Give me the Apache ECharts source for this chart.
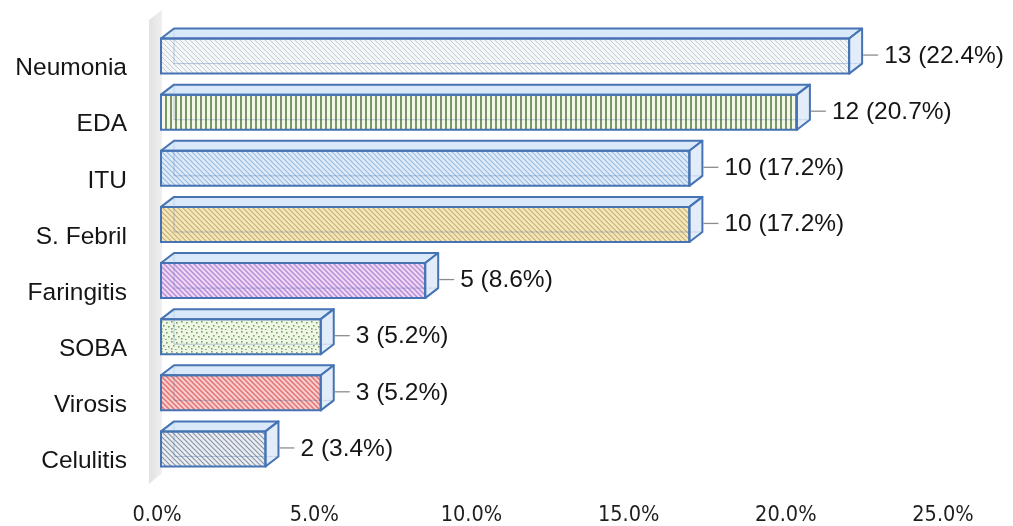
<!DOCTYPE html>
<html>
<head>
<meta charset="utf-8">
<script src="https://cdn.jsdelivr.net/npm/echarts@6/dist/echarts.min.js"></script>
<style>
  html, body { margin: 0; padding: 0; background: #ffffff; }
  #chart { width: 1013px; height: 526px; }
</style>
</head>
<body>
<div id="chart"></div>
<script>
// Diagnoses, case counts and their share of all cases (%)
const categories = ['Neumonia', 'EDA', 'ITU', 'S. Febril', 'Faringitis', 'SOBA', 'Virosis', 'Celulitis'];
const counts = [13, 12, 10, 10, 5, 3, 3, 2];
const percents = [22.4, 20.7, 17.2, 17.2, 8.6, 5.2, 5.2, 3.4];
const axisTicks = [0, 5, 10, 15, 20, 25];

// ---- pattern tiles for the front faces ----
function hatchTile(base, ink, size, width) {
  const c = document.createElement('canvas');
  c.width = c.height = size;
  const g = c.getContext('2d');
  g.fillStyle = base; g.fillRect(0, 0, size, size);
  g.strokeStyle = ink; g.lineWidth = width;
  g.beginPath();
  for (const o of [-size, 0, size]) { g.moveTo(o - 1, -1); g.lineTo(o + size + 1, size + 1); }
  g.stroke();
  return c;
}
function stripeTile(base, ink, size, width) {
  const c = document.createElement('canvas');
  c.width = size; c.height = 4;
  const g = c.getContext('2d');
  g.fillStyle = base; g.fillRect(0, 0, size, 4);
  g.fillStyle = ink; g.fillRect(0, 0, width, 4);
  return c;
}
function dotTile(base, ink) {
  const c = document.createElement('canvas');
  c.width = c.height = 10;
  const g = c.getContext('2d');
  g.fillStyle = base; g.fillRect(0, 0, 10, 10);
  g.fillStyle = ink;
  [[1, 1], [6, 2], [3, 5], [8, 6], [1, 8], [5, 9]].forEach(function (p) {
    g.fillRect(p[0], p[1], 1.6, 1.6);
  });
  return c;
}

const faceFills = [
  hatchTile('#f2f5f8', '#c3c8ce', 5, 1),
  stripeTile('#f3f7e6', '#6e8c5c', 5, 2),
  hatchTile('#dfeaf7', '#8db4de', 5, 1.2),
  hatchTile('#f3e6b6', '#c4a768', 5, 1.2),
  hatchTile('#ecd6f3', '#b27fd3', 5, 1.4),
  dotTile('#eef6e3', '#6f9a5c'),
  hatchTile('#f8caca', '#e06767', 5, 1.5),
  hatchTile('#e9edf1', '#7d8ba0', 5, 1.2)
].map(function (tile) { return { image: tile, repeat: 'repeat' }; });

const EDGE = '#4673b3';
const DEPTH_X = 13, DEPTH_Y = 10;
const LABEL_FONT = '24.5px "Liberation Sans", Arial, sans-serif';

// Box-shaped bar: patterned front, translucent top and side, short leader to the label
function renderBox(params, api) {
  const v = api.value(0);
  const ci = api.value(1);
  const p0 = api.coord([0, ci]);
  const p1 = api.coord([v, ci]);
  const band = api.size([0, 1])[1];
  const h = band * 0.625;
  const x0 = p0[0], x1 = p1[0], yc = p0[1];
  const top = yc - h / 2, bot = yc + h / 2;
  const dx = DEPTH_X, dy = DEPTH_Y;
  const idx = params.dataIndex;
  return {
    type: 'group',
    children: [
      { type: 'polyline', shape: { points: [[x0 + dx, top - dy], [x0 + dx, bot - dy], [x1 + dx, bot - dy]] },
        style: { stroke: 'rgba(70,115,179,0.45)', lineWidth: 1, lineDash: [3, 2], fill: null } },
      { type: 'rect', shape: { x: x0, y: top, width: x1 - x0, height: h },
        style: { fill: faceFills[idx], opacity: 0.92 } },
      { type: 'polyline', shape: { points: [[x0 + dx, top - dy], [x0 + dx, bot - dy], [x1 + dx, bot - dy]] },
        style: { stroke: 'rgba(70,115,179,0.35)', lineWidth: 1, fill: null } },
      { type: 'polygon', shape: { points: [[x0, top], [x0 + dx, top - dy], [x1 + dx, top - dy], [x1, top]] },
        style: { fill: 'rgba(205,226,247,0.75)', stroke: EDGE, lineWidth: 2, lineJoin: 'round' } },
      { type: 'polygon', shape: { points: [[x1, top], [x1 + dx, top - dy], [x1 + dx, bot - dy], [x1, bot]] },
        style: { fill: 'rgba(214,230,247,0.7)', stroke: EDGE, lineWidth: 2, lineJoin: 'round' } },
      { type: 'rect', shape: { x: x0, y: top, width: x1 - x0, height: h },
        style: { fill: null, stroke: EDGE, lineWidth: 2 } },
      { type: 'line', shape: { x1: x1 + dx + 1, y1: yc - 1, x2: x1 + dx + 16, y2: yc - 1 },
        style: { stroke: '#8c8c8c', lineWidth: 1.3 } },
      { type: 'text', style: {
          text: counts[idx] + ' (' + percents[idx].toFixed(1) + '%)',
          x: x1 + dx + 22, y: yc,
          fill: '#151515', font: LABEL_FONT,
          align: 'left', verticalAlign: 'middle' } }
    ]
  };
}

// Pale side wall at the zero end of the value axis
function renderWall(params, api) {
  const first = api.coord([0, 0]);
  const last = api.coord([0, categories.length - 1]);
  const band = api.size([0, 1])[1];
  const x = first[0];
  const yTop = first[1] - band / 2;
  const yBot = last[1] + band / 2;
  return {
    type: 'polygon',
    shape: { points: [[x - 12, yTop - 8], [x + 1, yTop - 18], [x + 1, yBot - 4], [x - 12, yBot + 7]] },
    style: {
      fill: new echarts.graphic.LinearGradient(0, 0, 1, 0, [
        { offset: 0, color: '#e2e2e2' }, { offset: 1, color: '#efefef' }
      ])
    },
    silent: true
  };
}

const chart = echarts.init(document.getElementById('chart'), null, { renderer: 'canvas' });
chart.setOption({
  backgroundColor: '#ffffff',
  animation: false,
  grid: [
    { left: 161, right: 84, top: 28, bottom: 49 },
    { left: 157, right: 70, top: 28, bottom: 49 }
  ],
  xAxis: [
    { type: 'value', gridIndex: 0, min: 0, max: 25, interval: 5,
      axisLine: { show: false }, axisTick: { show: false }, axisLabel: { show: false }, splitLine: { show: false } },
    { type: 'value', gridIndex: 1, min: axisTicks[0], max: axisTicks[axisTicks.length - 1], interval: 5,
      axisLine: { show: false }, axisTick: { show: false }, splitLine: { show: false },
      axisLabel: { margin: 28, fontSize: 21.5, color: '#1e1e1e',
        fontFamily: '"Liberation Sans Narrow", "DejaVu Sans Condensed", "Open Sans", sans-serif',
        formatter: function (v) { return v.toFixed(1) + '%'; } } }
  ],
  yAxis: [
    { type: 'category', gridIndex: 0, data: categories, inverse: true,
      axisLine: { show: false }, axisTick: { show: false }, splitLine: { show: false },
      axisLabel: { margin: 34, fontSize: 24.5, color: '#151515', verticalAlign: 'top',
        fontFamily: '"Liberation Sans", Arial, sans-serif' } },
    { type: 'value', gridIndex: 1, min: 0, max: 1, show: false }
  ],
  series: [
    { type: 'custom', name: 'wall', xAxisIndex: 0, yAxisIndex: 0, z: 1,
      renderItem: renderWall, data: [[0, 0]], encode: { x: 0, y: 1 }, silent: true },
    { type: 'custom', name: 'cases', xAxisIndex: 0, yAxisIndex: 0, z: 2,
      renderItem: renderBox, encode: { x: 0, y: 1 },
      data: percents.map(function (p, i) { return [p, i]; }) }
  ]
});
</script>
</body>
</html>
